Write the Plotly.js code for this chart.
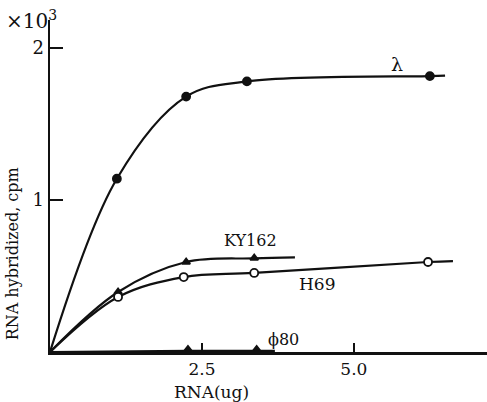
<!DOCTYPE html>
<html>
<head>
<meta charset="utf-8">
<script src="https://cdn.plot.ly/plotly-3.0.1.min.js"></script>
<style>html,body{margin:0;padding:0;background:#fff;}#chart{width:487px;height:402px;}</style>
</head>
<body>
<div id="chart"></div>
<script>
// Measured points (x: RNA in ug, y: cpm)
const lambdaX = [1.1, 2.24, 3.24, 6.25];
const lambdaY = [1140, 1680, 1780, 1815];
const ky162X = [1.12, 2.24, 3.36];
const ky162Y = [395, 592, 618];
const h69X = [1.12, 2.2, 3.36, 6.22];
const h69Y = [362, 493, 520, 592];
const phi80X = [2.27, 3.4];
const phi80Y = [14, 14];

// Fitted curves drawn in the figure (origin, points, end of drawn line)
const lambdaCurveX = [0, 1.1, 2.24, 3.24, 6.25, 6.5];
const lambdaCurveY = [0, 1140, 1680, 1780, 1815, 1818];
const ky162CurveX = [0, 1.12, 2.24, 3.36, 4.03];
const ky162CurveY = [0, 395, 592, 616, 622];
const h69CurveX = [0, 1.12, 2.2, 3.36, 6.22, 6.63];
const h69CurveY = [0, 362, 493, 520, 592, 598];
const phi80CurveX = [0, 2.27, 3.4, 3.7];
const phi80CurveY = [0, 8, 8, 8];

const xTicks = [2.5, 5.0];
const xTickText = ['2.5', '5.0'];
const yTicks = [1000, 2000];
const yTickText = ['1', '2'];

const ink = '#111';
const serif = '"DejaVu Serif", "Liberation Serif", serif';

function curve(x, y) {
  return {x: x, y: y, mode: 'lines', type: 'scatter', line: {color: ink, width: 2.2, shape: 'spline', smoothing: 1.0}, hoverinfo: 'skip', showlegend: false};
}
function marks(x, y, symbol, size, fill) {
  return {x: x, y: y, mode: 'markers', type: 'scatter', marker: {symbol: symbol, size: size, color: fill, line: {color: ink, width: 1.8}}, showlegend: false, cliponaxis: false};
}

const data = [
  curve(lambdaCurveX, lambdaCurveY),
  curve(ky162CurveX, ky162CurveY),
  curve(h69CurveX, h69CurveY),
  curve(phi80CurveX, phi80CurveY),
  marks(lambdaX, lambdaY, 'circle', 8, ink),
  marks(ky162X, ky162Y, 'triangle-up', 7, ink),
  marks(h69X, h69Y, 'circle', 8, '#fff'),
  marks(phi80X, phi80Y, 'triangle-up', 8, ink)
];

const layout = {
  width: 487, height: 402,
  margin: {l: 50, r: 0, t: 20, b: 50},
  paper_bgcolor: '#fff', plot_bgcolor: '#fff',
  font: {family: serif, color: ink, size: 16},
  xaxis: {
    range: [0, 7.19], showgrid: false, zeroline: false,
    showline: true, linecolor: ink, linewidth: 2.5,
    tickvals: xTicks, ticktext: xTickText,
    ticks: 'inside', ticklen: 9, tickwidth: 2, tickcolor: ink,
    tickfont: {family: serif, size: 17, color: ink}
  },
  yaxis: {
    range: [0, 2184], showgrid: false, zeroline: false,
    showline: true, linecolor: ink, linewidth: 2.5,
    tickvals: yTicks, ticktext: yTickText,
    ticks: 'inside', ticklen: 13, tickwidth: 2, tickcolor: ink,
    tickfont: {family: serif, size: 18, color: ink}
  },
  annotations: [
    {text: '×10<sup>3</sup>', xref: 'paper', yref: 'paper', x: -0.105, y: 1.045, xanchor: 'left', yanchor: 'top', showarrow: false, font: {family: serif, size: 20, color: ink}},
    {text: 'RNA hybridized, cpm', xref: 'paper', yref: 'paper', x: -0.06, y: 0.295, textangle: -90, xanchor: 'right', yanchor: 'middle', showarrow: false, font: {family: serif, size: 16, color: ink}},
    {text: 'RNA(ug)', xref: 'paper', yref: 'paper', x: (211 - 50) / 437, y: -0.085, xanchor: 'center', yanchor: 'top', showarrow: false, font: {family: serif, size: 17, color: ink}},
    {text: 'λ', xref: 'x', yref: 'y', x: (397 - 50) / 60.8, y: 1895, showarrow: false, font: {family: serif, size: 19, color: ink}},
    {text: 'KY162', xref: 'x', yref: 'y', x: (251 - 50) / 60.8, y: (352 - 241) / 0.152, showarrow: false, font: {family: serif, size: 16, color: ink}},
    {text: 'H69', xref: 'x', yref: 'y', x: (317 - 50) / 60.8, y: (352 - 284) / 0.152, showarrow: false, font: {family: serif, size: 17, color: ink}},
    {text: 'ϕ80', xref: 'x', yref: 'y', x: (284 - 50) / 60.8, y: (352 - 339) / 0.152, showarrow: false, font: {family: serif, size: 16, color: ink}}
  ]
};

Plotly.newPlot('chart', data, layout, {displayModeBar: false, staticPlot: true});
</script>
</body>
</html>
